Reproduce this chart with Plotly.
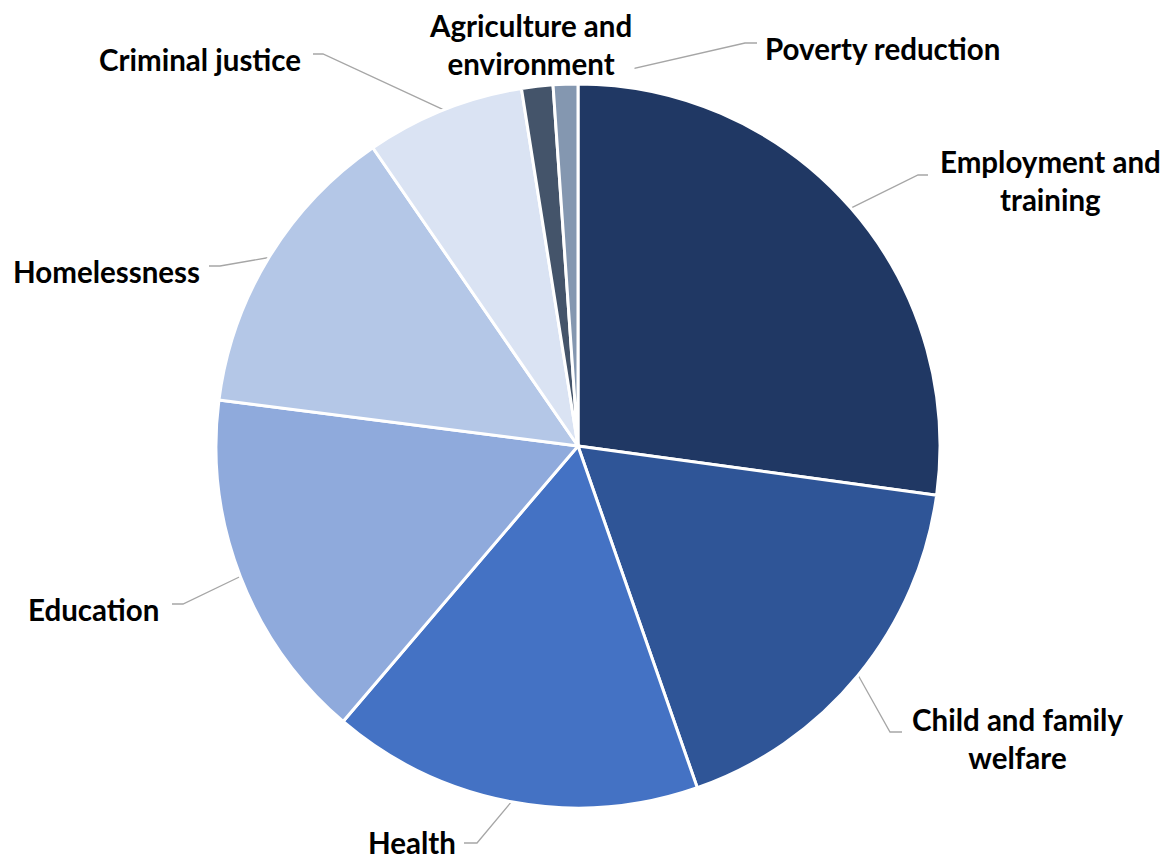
import math
import plotly.graph_objects as go

# ---- data ----
categories = ["Employment and training", "Child and family welfare", "Health", "Education",
              "Homelessness", "Criminal justice", "Agriculture and environment", "Poverty reduction"]
values = [27.2, 17.5, 16.6, 15.8, 13.4, 7.1, 1.4, 1.1]
label_text = ["Employment and<br>training", "Child and family<br>welfare", "Health", "Education",
              "Homelessness", "Criminal justice", "Agriculture and<br>environment", "Poverty reduction"]

# ---- styling / layout ----
colors = ["#203864", "#2F5597", "#4472C4", "#8FAADC", "#B4C7E7", "#DAE3F3", "#44546A", "#8497B0"]
W, H = 1170, 859
OFF = 8  # page body margin offset
CX, CY, R = 578 - OFF, 446 - OFF, 362
# label centre positions (page px) and leader-line elbow/end points (page px)
label_pos = [(1050, 180), (1017, 738), (412, 842), (93, 609), (106, 271), (200, 59), (530, 44), (882, 48)]
elbows = [((918, 175), (928, 175)), ((890, 732), (902, 732)), ((477, 843), (464, 843)),
          ((183, 604), (172, 604)), ((220, 266), (209, 266)), ((323, 54), (313, 54)),
          None, ((745, 43), (757, 43))]

fig = go.Figure()
fig.add_trace(go.Pie(
    labels=categories, values=values, sort=False, direction="clockwise", rotation=0,
    marker=dict(colors=colors, line=dict(color="white", width=3)),
    textinfo="none", hoverinfo="label+percent", showlegend=False,
    domain=dict(x=[(CX - R) / W, (CX + R) / W], y=[(H - CY - R) / H, (H - CY + R) / H]),
))

total = sum(values)
cum = 0
for i, v in enumerate(values):
    mid = (cum + v / 2) / total * 2 * math.pi
    cum += v
    sx = CX + R * math.sin(mid)
    sy = CY - R * math.cos(mid)
    if elbows[i] is not None:
        (ex, ey), (tx, ty) = elbows[i]
        fig.add_trace(go.Scatter(x=[sx, ex - OFF, tx - OFF], y=[sy, ey - OFF, ty - OFF], mode="lines",
                                 line=dict(color="#A6A6A6", width=1.3),
                                 hoverinfo="skip", showlegend=False, xaxis="x", yaxis="y"))

for i, t in enumerate(label_text):
    x, y = label_pos[i]
    fig.add_annotation(x=x - OFF, y=y - OFF, xref="x", yref="y", text=t, showarrow=False,
                       xanchor="center", yanchor="middle", align="center",
                       font=dict(family="Lato", size=29.5, color="#000000", weight="bold"),
                       bgcolor="white" if i == 6 else None, borderpad=2 if i == 6 else 1)

fig.update_layout(
    width=W, height=H, margin=dict(l=0, r=0, t=0, b=0),
    paper_bgcolor="white", plot_bgcolor="rgba(0,0,0,0)",
    xaxis=dict(range=[0, W], visible=False, domain=[0, 1], fixedrange=True),
    yaxis=dict(range=[H, 0], visible=False, domain=[0, 1], fixedrange=True),
)
fig.write_html("out.html")
